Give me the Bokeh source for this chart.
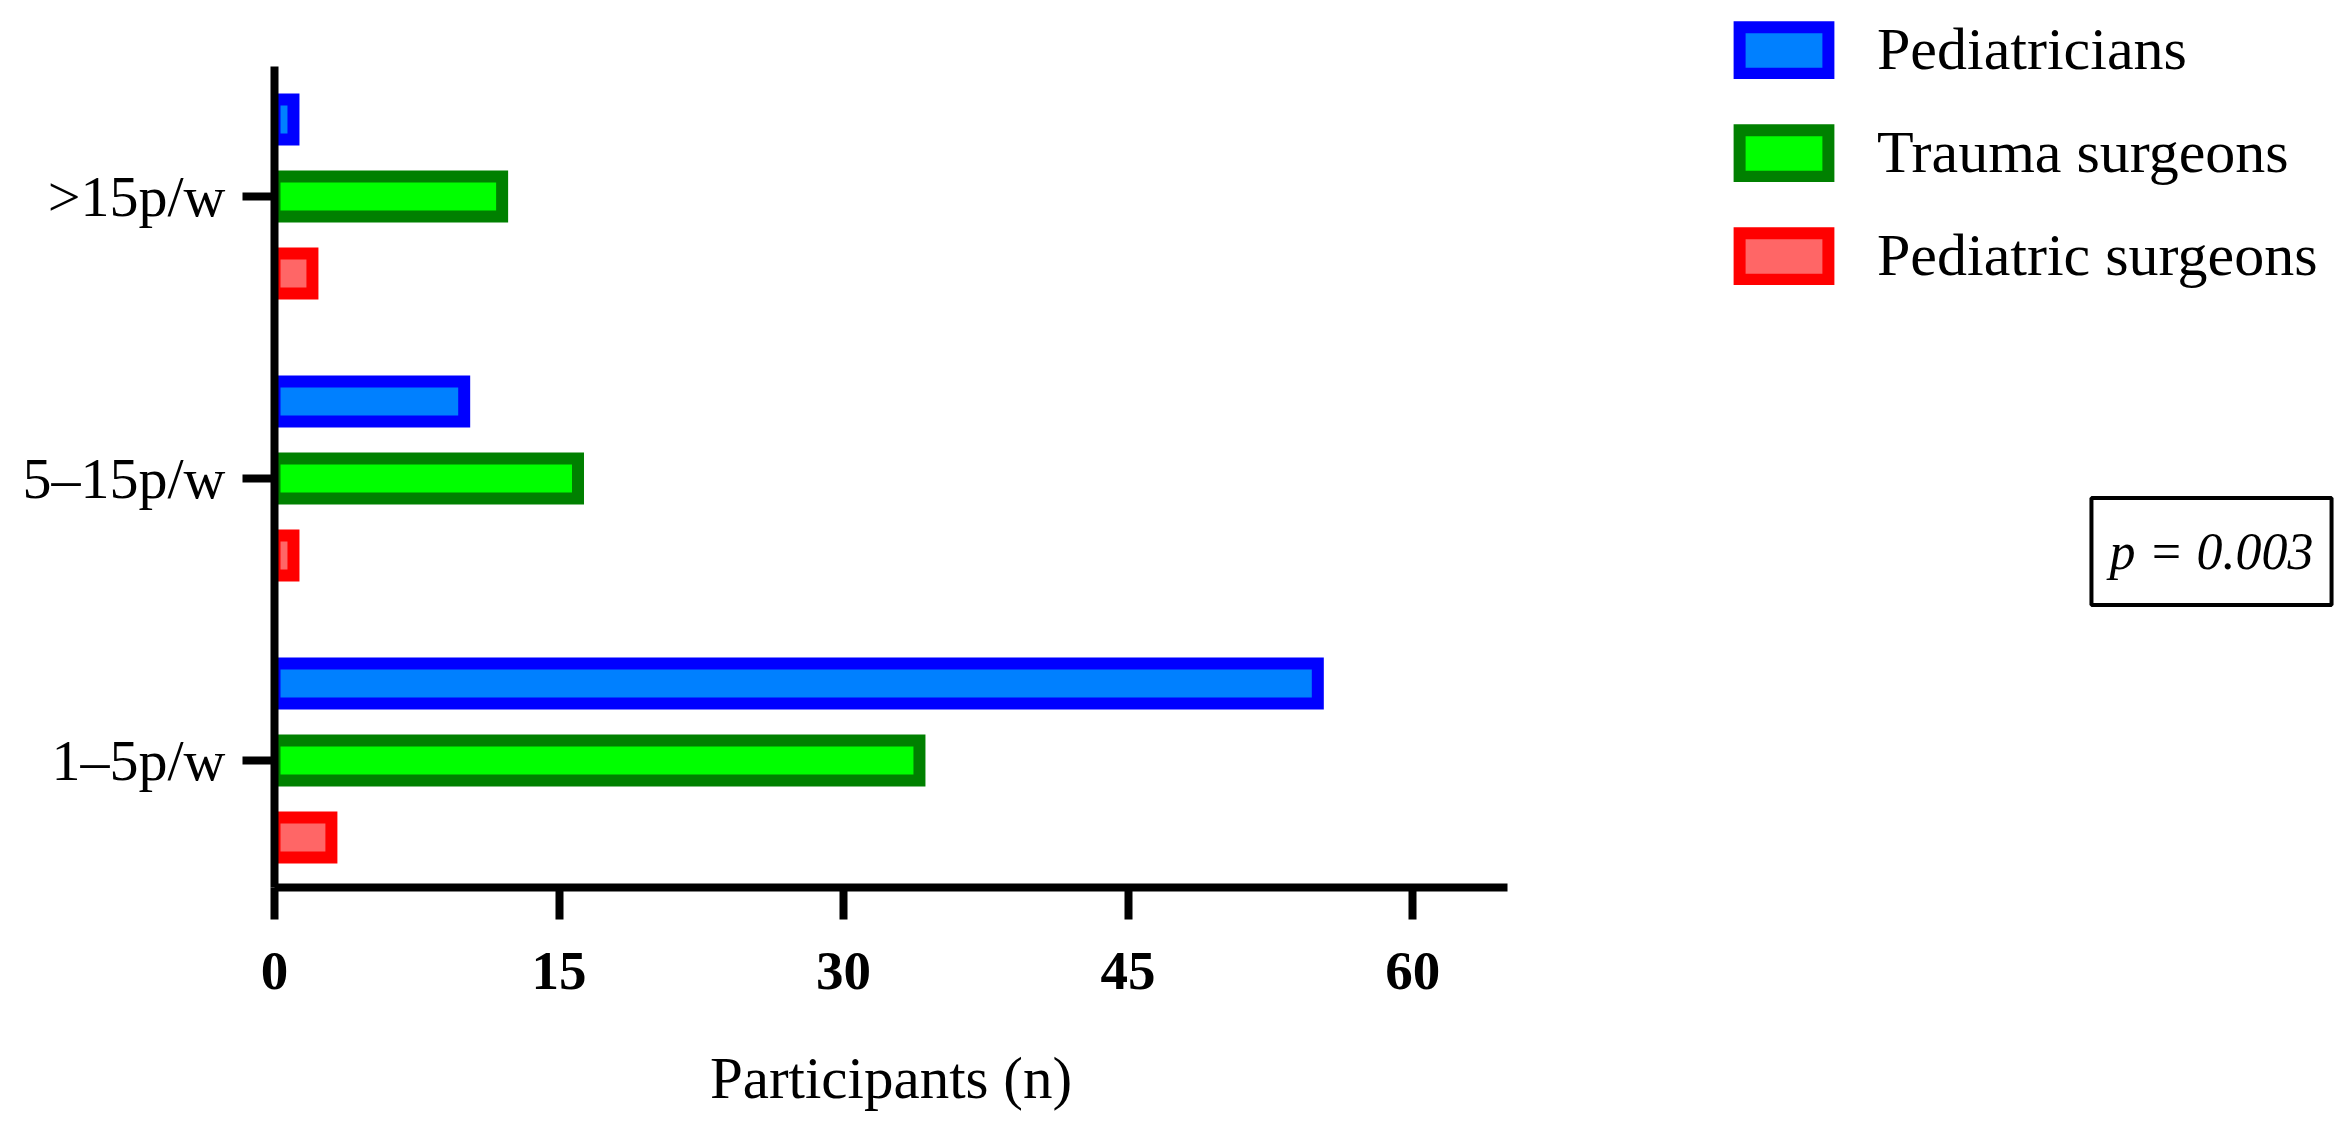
from bokeh.plotting import figure
from bokeh.layouts import row
from bokeh.models import Range1d, FixedTicker, Legend, LegendItem, Label, ColumnDataSource
from bokeh.embed import file_html
from bokeh.resources import INLINE

# ---- data ----
categories = ["1–5p/w", "5–15p/w", ">15p/w"]          # bottom to top
series_names = ["Pediatricians", "Trauma surgeons", "Pediatric surgeons"]
pediatricians = [55, 10, 1]
trauma_surgeons = [34, 16, 12]
pediatric_surgeons = [3, 1, 2]
x_ticks = [0, 15, 30, 45, 60]
x_max = 65
p_value_text = "p = 0.003"

# ---- styles ----
fill_colors = ["#0080FF", "#00FF00", "#FF6666"]
line_colors = ["#0000FF", "#008000", "#FF0000"]
offsets = [0.273, 0.0, -0.273]
FONT = "Liberation Serif"

# ---------------- main chart ----------------
# frame reaches the top of the canvas (so the aligned side panel can hold the
# legend); the y axis line is bounded to the category extent.
p = figure(width=1560, height=1128,
           min_border_left=274, min_border_right=53,
           min_border_top=0, min_border_bottom=241,
           x_range=Range1d(0, x_max), y_range=Range1d(-0.45, 2.695),
           output_backend="svg", toolbar_location=None)

for values, fc, lc, off in zip([pediatricians, trauma_surgeons, pediatric_surgeons],
                               fill_colors, line_colors, offsets):
    src = ColumnDataSource(dict(y=[i + off for i in range(len(categories))], v=values))
    p.hbar(y="y", left=0, right="v", height=0.142, source=src,
           fill_color=fc, line_color=lc, line_width=12, line_join="miter")

p.grid.visible = False
p.outline_line_color = None

for ax in (p.xaxis, p.yaxis):
    ax.axis_line_width = 8
    ax.major_tick_line_width = 8
    ax.major_tick_out = 32
    ax.major_tick_in = 0
    ax.minor_tick_line_color = None
    ax.major_label_text_font = FONT
    ax.major_label_text_color = "black"

p.xaxis.ticker = FixedTicker(ticks=x_ticks)
p.xaxis.major_label_text_font_style = "bold"
p.xaxis.major_label_text_font_size = "55px"
p.xaxis.major_label_standoff = 33
p.xaxis.axis_label = "Participants (n)"
p.xaxis.axis_label_text_font = FONT
p.xaxis.axis_label_text_font_style = "normal"
p.xaxis.axis_label_text_font_size = "59px"
p.xaxis.axis_label_text_color = "black"
p.xaxis.axis_label_standoff = 53

p.yaxis.bounds = (-0.45, 2.46)
p.yaxis.ticker = FixedTicker(ticks=list(range(len(categories))))
p.yaxis.major_label_overrides = {i: c for i, c in enumerate(categories)}
p.yaxis.major_label_text_font_size = "58px"
p.yaxis.major_label_standoff = 17

# ---------------- legend / annotation panel ----------------
side_w = 777
q = figure(width=side_w, height=1128, min_border=0,
           x_range=Range1d(0, side_w), y_range=Range1d(0, 887),
           x_axis_type=None, y_axis_type=None,
           output_backend="svg", toolbar_location=None)
q.grid.visible = False
q.outline_line_color = None

# legend proxies: a single non-drawable (NaN) bar each, used only for swatches
legend_renderers = []
for fc, lc in zip(fill_colors, line_colors):
    r = q.hbar(y=[float("nan")], left=[float("nan")], right=[float("nan")], height=1,
               fill_color=fc, line_color=lc, line_width=12, line_join="miter")
    legend_renderers.append(r)

legend = Legend(items=[LegendItem(label=n, renderers=[r]) for n, r in zip(series_names, legend_renderers)],
                location=(168, 597), glyph_width=111, glyph_height=58,
                label_standoff=38, spacing=34, padding=0, margin=0,
                border_line_color=None, background_fill_alpha=0,
                label_text_font=FONT, label_text_font_size="60px",
                label_text_color="black")
q.add_layout(legend)

plabel = Label(x=651, y=336, text=p_value_text, text_font=FONT,
               text_font_style="italic", text_font_size="52px",
               text_color="black",
               text_align="center", text_baseline="middle",
               border_line_color="black", border_line_width=4,
               background_fill_color="white", padding=(18, 25))
q.add_layout(plabel)

open("out.html", "w").write(file_html(row(p, q), INLINE))
